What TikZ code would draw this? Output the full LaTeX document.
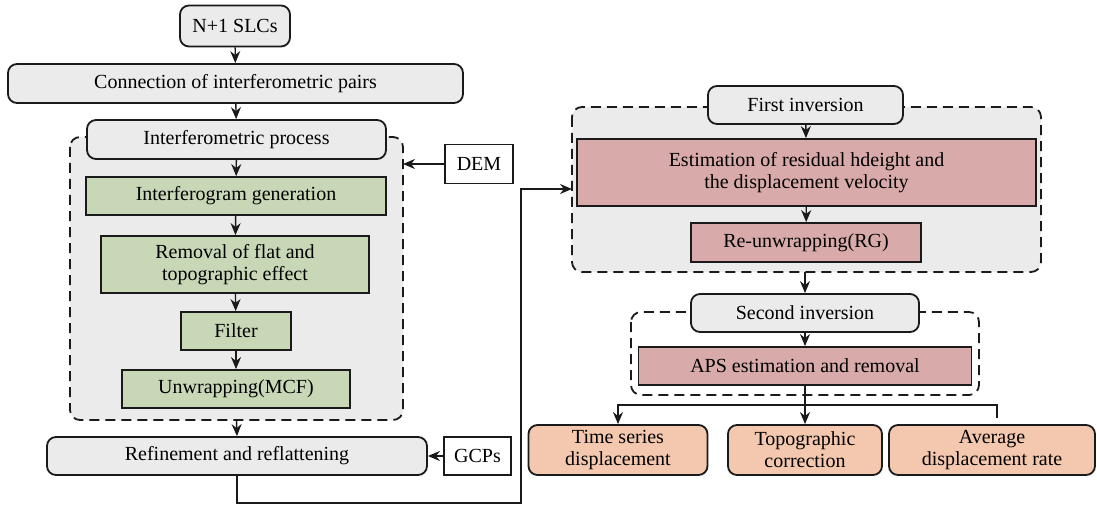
\documentclass[tikz,border=0pt]{standalone}
\usepackage{fontspec}
\setmainfont{Liberation Serif}
\usetikzlibrary{arrows.meta}
\definecolor{boxgray}{HTML}{EBEBEB}
\definecolor{boxgreen}{HTML}{C8D8B6}
\definecolor{boxpink}{HTML}{D9AAAA}
\definecolor{boxorange}{HTML}{F3C8AE}
\definecolor{linecol}{HTML}{1A1A1A}
\tikzset{
  base/.style={draw=linecol, line width=1.8pt, inner sep=0pt, align=center, font=\fontsize{20}{22}\selectfont, text=black},
  graybox/.style={base, fill=boxgray, rounded corners=9pt},
  greenbox/.style={base, fill=boxgreen},
  pinkbox/.style={base, fill=boxpink},
  orangebox/.style={base, fill=boxorange, rounded corners=9pt},
  whitebox/.style={base, fill=white, line width=1.5pt},
  container/.style={draw=linecol, line width=1.8pt, dash pattern=on 10pt off 6pt, rounded corners=10pt},
  arr/.style={draw=linecol, line width=1.4pt, -{Stealth[length=12pt,width=10pt]}},
  ln/.style={draw=linecol, line width=1.4pt},
}
\begin{document}
\begin{tikzpicture}[x=1pt,y=-1pt]
\useasboundingbox (0,0) rectangle (1097,505);
% containers
\draw[container, fill=boxgray] (70,137) rectangle (403,420);
\draw[container, fill=boxgray] (572,107) rectangle (1041,272);
\draw[container] (631,312) rectangle (979,395);
% left column
\node[graybox, minimum width=110pt, minimum height=41pt] (slc) at (235,26) {N+1 SLCs};
\node[graybox, minimum width=455pt, minimum height=39pt] (conn) at (235.5,83.5) {Connection of interferometric pairs};
\node[graybox, minimum width=299pt, minimum height=39pt] (ip) at (236.5,139.5) {Interferometric process};
\node[whitebox, minimum width=68pt, minimum height=39pt] (dem) at (479,164) {DEM};
\node[greenbox, minimum width=300pt, minimum height=38pt] (ig) at (236,196) {Interferogram generation};
\node[greenbox, minimum width=268pt, minimum height=57pt] (rm) at (235,264.5) {Removal of flat and\\topographic effect};
\node[greenbox, minimum width=110pt, minimum height=38pt] (fl) at (236,331) {Filter};
\node[greenbox, minimum width=228pt, minimum height=38pt] (uw) at (236,389) {Unwrapping(MCF)};
\node[graybox, minimum width=380pt, minimum height=38pt] (rf) at (237,456) {Refinement and reflattening};
\node[whitebox, minimum width=67pt, minimum height=38pt] (gcp) at (477.5,456) {GCPs};
% right column
\node[graybox, minimum width=195pt, minimum height=38pt] (fi) at (805.5,105) {First inversion};
\node[pinkbox, minimum width=459pt, minimum height=67pt] (es) at (806.5,172.5) {Estimation of residual hdeight and\\the displacement velocity};
\node[pinkbox, minimum width=230pt, minimum height=39pt] (ru) at (806,242.5) {Re-unwrapping(RG)};
\node[graybox, minimum width=228pt, minimum height=38pt] (si) at (805,313) {Second inversion};
\node[pinkbox, minimum width=333pt, minimum height=38pt] (aps) at (805,366) {APS estimation and removal};
\node[orangebox, minimum width=179pt, minimum height=50pt] (ts) at (618,450) {Time series\\displacement};
\node[orangebox, minimum width=154pt, minimum height=50pt] (tc) at (805,450) {Topographic\\correction};
\node[orangebox, minimum width=206pt, minimum height=50pt] (av) at (992,450) {Average\\displacement rate};
% coordinates
\coordinate (c1bot) at (236.5,420);
\coordinate (c1east) at (403,164);
\coordinate (c2west) at (572,189);
\coordinate (c2bot) at (805,272);
\coordinate (p1) at (237,503);
\coordinate (p2) at (521,503);
\coordinate (br) at (805,405);
\coordinate (avtop) at (997,418);
% connectors
\draw[arr] (slc) -- (conn);
\draw[arr] (conn) -- (ip);
\draw[arr] (ip) -- (ig);
\draw[arr] (ig) -- (rm);
\draw[arr] (rm) -- (fl);
\draw[arr] (fl) -- (uw);
\draw[arr] (c1bot) -- (rf.north);
\draw[arr] (dem) -- (c1east);
\draw[arr] (gcp) -- (rf);
\draw[arr] (rf.south) -- (p1) -- (p2) |- (c2west);
\draw[arr] (fi) -- (es);
\draw[arr] (es) -- (ru);
\draw[arr] (c2bot) -- (si.north);
\draw[arr] (si) -- (aps);
\draw[arr] (aps) -- (tc);
\draw[arr] (br) -| (ts.north);
\draw[ln] (br) -| (avtop);
\end{tikzpicture}
\end{document}
